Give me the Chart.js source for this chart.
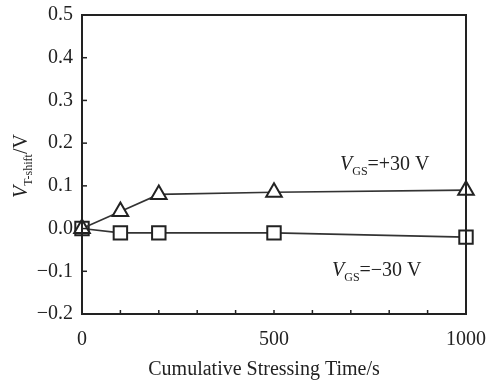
<!DOCTYPE html>
<html>
<head>
<meta charset="utf-8">
<script src="https://cdn.jsdelivr.net/npm/chart.js@4.4.0/dist/chart.umd.min.js"></script>
<style>
  html, body { margin: 0; padding: 0; background: #fff; }
  #wrap { width: 490px; height: 383px; }
</style>
</head>
<body>
<div id="wrap"><canvas id="shift"></canvas></div>
<script>
// stressing times (s) and threshold shift (V)
const tiempos = [0, 100, 200, 500, 1000];
const shiftPos = [0, 0.04, 0.08, 0.085, 0.09];     // V_GS = +30 V
const shiftNeg = [0, -0.01, -0.01, -0.01, -0.02];  // V_GS = -30 V
const yTicks = [-0.2, -0.1, 0.0, 0.1, 0.2, 0.3, 0.4, 0.5];
const xLabels = [0, 500, 1000];

const serif = '"Liberation Serif", "DejaVu Serif", serif';
const ink = '#222';

function puntos(ys) {
    return tiempos.map((t, i) => ({ x: t, y: ys[i] }));
}

// draws a text made of pieces: [text, size, italic, dy]
function textoCompuesto(ctx, piezas, x, y, centrado) {
    let total = 0;
    piezas.forEach(p => {
        ctx.font = (p[2] ? 'italic ' : '') + p[1] + 'px ' + serif;
        total += ctx.measureText(p[0]).width;
    });
    let cx = centrado ? x - total / 2 : x;
    ctx.textAlign = 'left';
    ctx.textBaseline = 'alphabetic';
    piezas.forEach(p => {
        ctx.font = (p[2] ? 'italic ' : '') + p[1] + 'px ' + serif;
        ctx.fillText(p[0], cx, y + (p[3] || 0));
        cx += ctx.measureText(p[0]).width;
    });
}

// frame, inward ticks and the text labels
const marco = {
    id: 'marco',
    afterDraw(chart) {
        const ctx = chart.ctx;
        const a = chart.chartArea;
        const xs = chart.scales.x, ys = chart.scales.y;
        ctx.save();
        ctx.strokeStyle = ink;
        ctx.lineWidth = 1.5;
        // ticks on the left axis
        ys.ticks.forEach(t => {
            const py = ys.getPixelForValue(t.value);
            ctx.beginPath();
            ctx.moveTo(a.left, py);
            ctx.lineTo(a.left + 5, py);
            ctx.stroke();
        });
        // ticks on the bottom axis
        xs.ticks.forEach(t => {
            const px = xs.getPixelForValue(t.value);
            ctx.beginPath();
            ctx.moveTo(px, a.bottom);
            ctx.lineTo(px, a.bottom - 4);
            ctx.stroke();
        });
        ctx.lineWidth = 2;
        ctx.strokeRect(a.left, a.top, a.right - a.left, a.bottom - a.top);

        ctx.fillStyle = ink;
        textoCompuesto(ctx, [['V', 20, true], ['GS', 12, false, 5], ['=+30 V', 20, false]], 340, 170, false);
        textoCompuesto(ctx, [['V', 20, true], ['GS', 12, false, 5], ['=\u221230 V', 20, false]], 332, 276, false);

        ctx.font = '20px ' + serif;
        ctx.textAlign = 'center';
        ctx.fillText('Cumulative Stressing Time/s', 264, 375);

        ctx.translate(27, 166);
        ctx.rotate(-Math.PI / 2);
        textoCompuesto(ctx, [['V', 20, true], ['T-shift', 12, false, 5], ['/V', 20, false]], 0, 0, true);
        ctx.restore();
    }
};

const ctx = document.getElementById('shift').getContext('2d');
const grafica = new Chart(ctx, {
    type: 'scatter',
    data: {
        datasets: [{
            label: 'V_GS=+30 V',
            data: puntos(shiftPos),
            showLine: true,
            borderColor: '#333',
            borderWidth: 1.6,
            pointStyle: 'triangle',
            pointRadius: 9,
            pointBorderWidth: 2,
            pointBackgroundColor: '#fff',
            pointBorderColor: ink,
            clip: false
        }, {
            label: 'V_GS=-30 V',
            data: puntos(shiftNeg),
            showLine: true,
            borderColor: '#333',
            borderWidth: 1.6,
            pointStyle: 'rect',
            pointRadius: 9.5,
            pointBorderWidth: 2,
            pointBackgroundColor: '#fff',
            pointBorderColor: ink,
            clip: false
        }]
    },
    options: {
        responsive: true,
        maintainAspectRatio: false,
        animation: false,
        layout: { padding: { top: 15, right: 24, left: 0, bottom: 0 } },
        scales: {
            x: {
                type: 'linear',
                min: 0,
                max: 1000,
                afterFit: s => { s.height = 69; s.paddingLeft = 0; s.paddingRight = 0; },
                grid: { display: false, drawTicks: false },
                border: { display: false },
                ticks: {
                    stepSize: 100,
                    autoSkip: false,
                    maxRotation: 0,
                    padding: 14,
                    color: ink,
                    font: { family: serif, size: 20 },
                    callback: v => xLabels.includes(v) ? String(v) : ''
                }
            },
            y: {
                min: yTicks[0],
                max: yTicks[yTicks.length - 1],
                afterFit: s => { s.width = 82; s.paddingTop = 0; s.paddingBottom = 0; },
                afterBuildTicks: s => { s.ticks = yTicks.map(v => ({ value: v })); },
                grid: { display: false, drawTicks: false },
                border: { display: false },
                ticks: {
                    padding: 9,
                    color: ink,
                    font: { family: serif, size: 20 },
                    callback: v => v.toFixed(1).replace('-', '\u2212')
                }
            }
        },
        plugins: {
            legend: { display: false },
            tooltip: { enabled: false }
        }
    },
    plugins: [marco]
});
</script>
</body>
</html>
